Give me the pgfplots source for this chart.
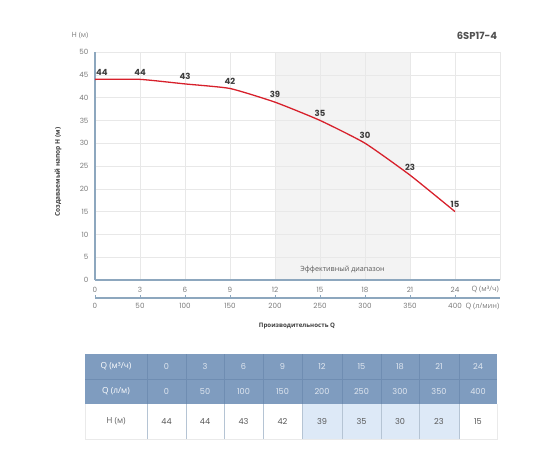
\documentclass[border=0pt]{standalone}
\usepackage{pgfplots}
\pgfplotsset{compat=1.18}
\usepackage{fontspec}
\setmainfont{Open Sans}
\newfontfamily\numfont{Poppins}
\definecolor{axcol}{HTML}{8DA7BE}
\definecolor{gridcol}{HTML}{E8E8E8}
\definecolor{shadecol}{HTML}{F3F3F3}
\definecolor{curve}{HTML}{D7202B}
\definecolor{lbl}{HTML}{3C3C3C}
\definecolor{tick}{HTML}{7A7A7A}
\definecolor{hdr}{HTML}{7F9CBF}
\definecolor{hdrline}{HTML}{6F8DB2}
\definecolor{cellblue}{HTML}{DDE9F7}
\definecolor{cellline}{HTML}{B5C4D4}
\begin{document}
\begin{tikzpicture}
\path (0,0) rectangle (560bp,-460bp);
\begin{axis}[
  set layers=standard,
  scale only axis,
  width=405bp, height=228bp,
  at={(95bp,-280bp)}, anchor=south west,
  xmin=0, xmax=27, ymin=0, ymax=50,
  xtick={0,3,...,27}, xticklabels={0,3,6,9,12,15,18,21,24,{}},
  ytick={0,5,...,50},
  grid=major, grid style={gridcol, line width=0.5pt},
  major tick length=0pt,
  axis x line*=bottom, axis y line*=left,
  axis line style={axcol, line width=1.2pt, -},
  /pgf/number format/assume math mode=true,
  tick label style={font=\numfont\fontsize{7.2}{8}\selectfont, text=tick},
  xticklabel style={yshift=-4bp},
  yticklabel style={xshift=-3bp},
  clip=false,
]
\begin{pgfonlayer}{axis background}
\fill[shadecol] (axis cs:12,0) rectangle (axis cs:21,50);
\end{pgfonlayer}
\addplot[curve, line width=1.3pt, smooth, tension=0.3] coordinates {
 (0,44) (3,44) (6,43) (9,42) (12,39) (15,35) (18,30) (21,23) (24,15)};
\addplot[draw=none, nodes near coords, point meta=explicit symbolic,
  nodes near coords style={font=\numfont\bfseries\fontsize{8.5}{10}\selectfont, text=lbl, anchor=south, inner sep=0pt, yshift=4bp}]
 coordinates {(3,44)[44] (6,43)[43] (9,42)[42] (12,39)[39] (15,35)[35] (18,30)[30] (21,23)[23] (24,15)[15]};
\addplot[draw=none, nodes near coords, point meta=explicit symbolic,
  nodes near coords style={font=\numfont\bfseries\fontsize{8.5}{10}\selectfont, text=lbl, anchor=south west, inner sep=0pt, xshift=1bp, yshift=4bp}]
 coordinates {(0,44)[44]};
\node[font=\fontsize{7.2}{8}\selectfont, text=lbl!85] at (axis cs:16.5,2.2) {Эффективный диапазон};
\end{axis}
\begin{axis}[
  scale only axis,
  width=405bp, height=1bp,
  at={(95bp,-298bp)}, anchor=south west,
  xmin=0, xmax=27, ymin=0, ymax=1,
  hide y axis,
  axis x line*=bottom,
  axis line style={axcol, line width=1.2pt, -},
  xtick={0,3,...,24}, xticklabels={0,50,100,150,200,250,300,350,400},
  major tick length=3bp,
  tick style={axcol, line width=0.6pt},
  /pgf/number format/assume math mode=true,
  tick label style={font=\numfont\fontsize{7.2}{8}\selectfont, text=tick},
  xticklabel style={yshift=-2bp},
]
\addplot[draw=none] coordinates {(0,0) (24,0)};
\end{axis}
\begin{scope}[x=1bp, y=-1bp]
\node[font=\fontsize{7.4}{8}\selectfont, text=tick, anchor=west] at (468,289) {Q (м³/ч)};
\node[font=\fontsize{7.4}{8}\selectfont, text=tick, anchor=west] at (462,306) {Q (л/мин)};
\node[font=\fontsize{7.2}{8}\selectfont, text=tick] at (80,36) {H (м)};
\node[font=\numfont\bfseries\fontsize{10}{12}\selectfont, text=lbl!90] at (477,36) {6SP17-4};
\node[font=\bfseries\fontsize{6.6}{8}\selectfont, text=lbl, rotate=90] at (58,172) {Создаваемый напор H (м)};
\node[font=\bfseries\fontsize{6.2}{8}\selectfont, text=lbl] at (297,326) {Производительность Q};
% table
\fill[hdr] (85,354) rectangle (497,404);
\fill[white] (85,404) rectangle (497,439);
\fill[cellblue] (302,404) rectangle (459,439);
\draw[hdrline, line width=0.5pt] (85,379) -- (497,379);
\foreach \x in {147,186,224,263,302,342,381,419,459} {
  \draw[hdrline, line width=0.5pt] (\x,354) -- (\x,404);
  \draw[cellline, line width=0.6pt] (\x,404) -- (\x,439);
}
\draw[gridcol!80!black!30, line width=0.5pt] (85,404) -- (85,439) -- (497,439) -- (497,404);
\node[font=\fontsize{8.4}{10}\selectfont, text=white] at (116,366.5) {Q (м³/ч)};
\node[font=\fontsize{8.4}{10}\selectfont, text=white] at (116,391.5) {Q (л/м)};
\node[font=\fontsize{8.4}{10}\selectfont, text=lbl!80] at (116,421.5) {H (м)};
\foreach \c/\a/\b/\h in {166.5/0/0/44, 205/3/50/44, 243.5/6/100/43, 282.5/9/150/42, 322/12/200/39, 361.5/15/250/35, 400/18/300/30, 439/21/350/23, 478/24/400/15} {
  \node[font=\numfont\fontsize{8.2}{10}\selectfont, text=white!75!hdr] at (\c,366.5) {\a};
  \node[font=\numfont\fontsize{8.2}{10}\selectfont, text=white!75!hdr] at (\c,391.5) {\b};
  \node[font=\numfont\fontsize{8.2}{10}\selectfont, text=lbl!85] at (\c,421.5) {\h};
}
\end{scope}
\end{tikzpicture}
\end{document}
